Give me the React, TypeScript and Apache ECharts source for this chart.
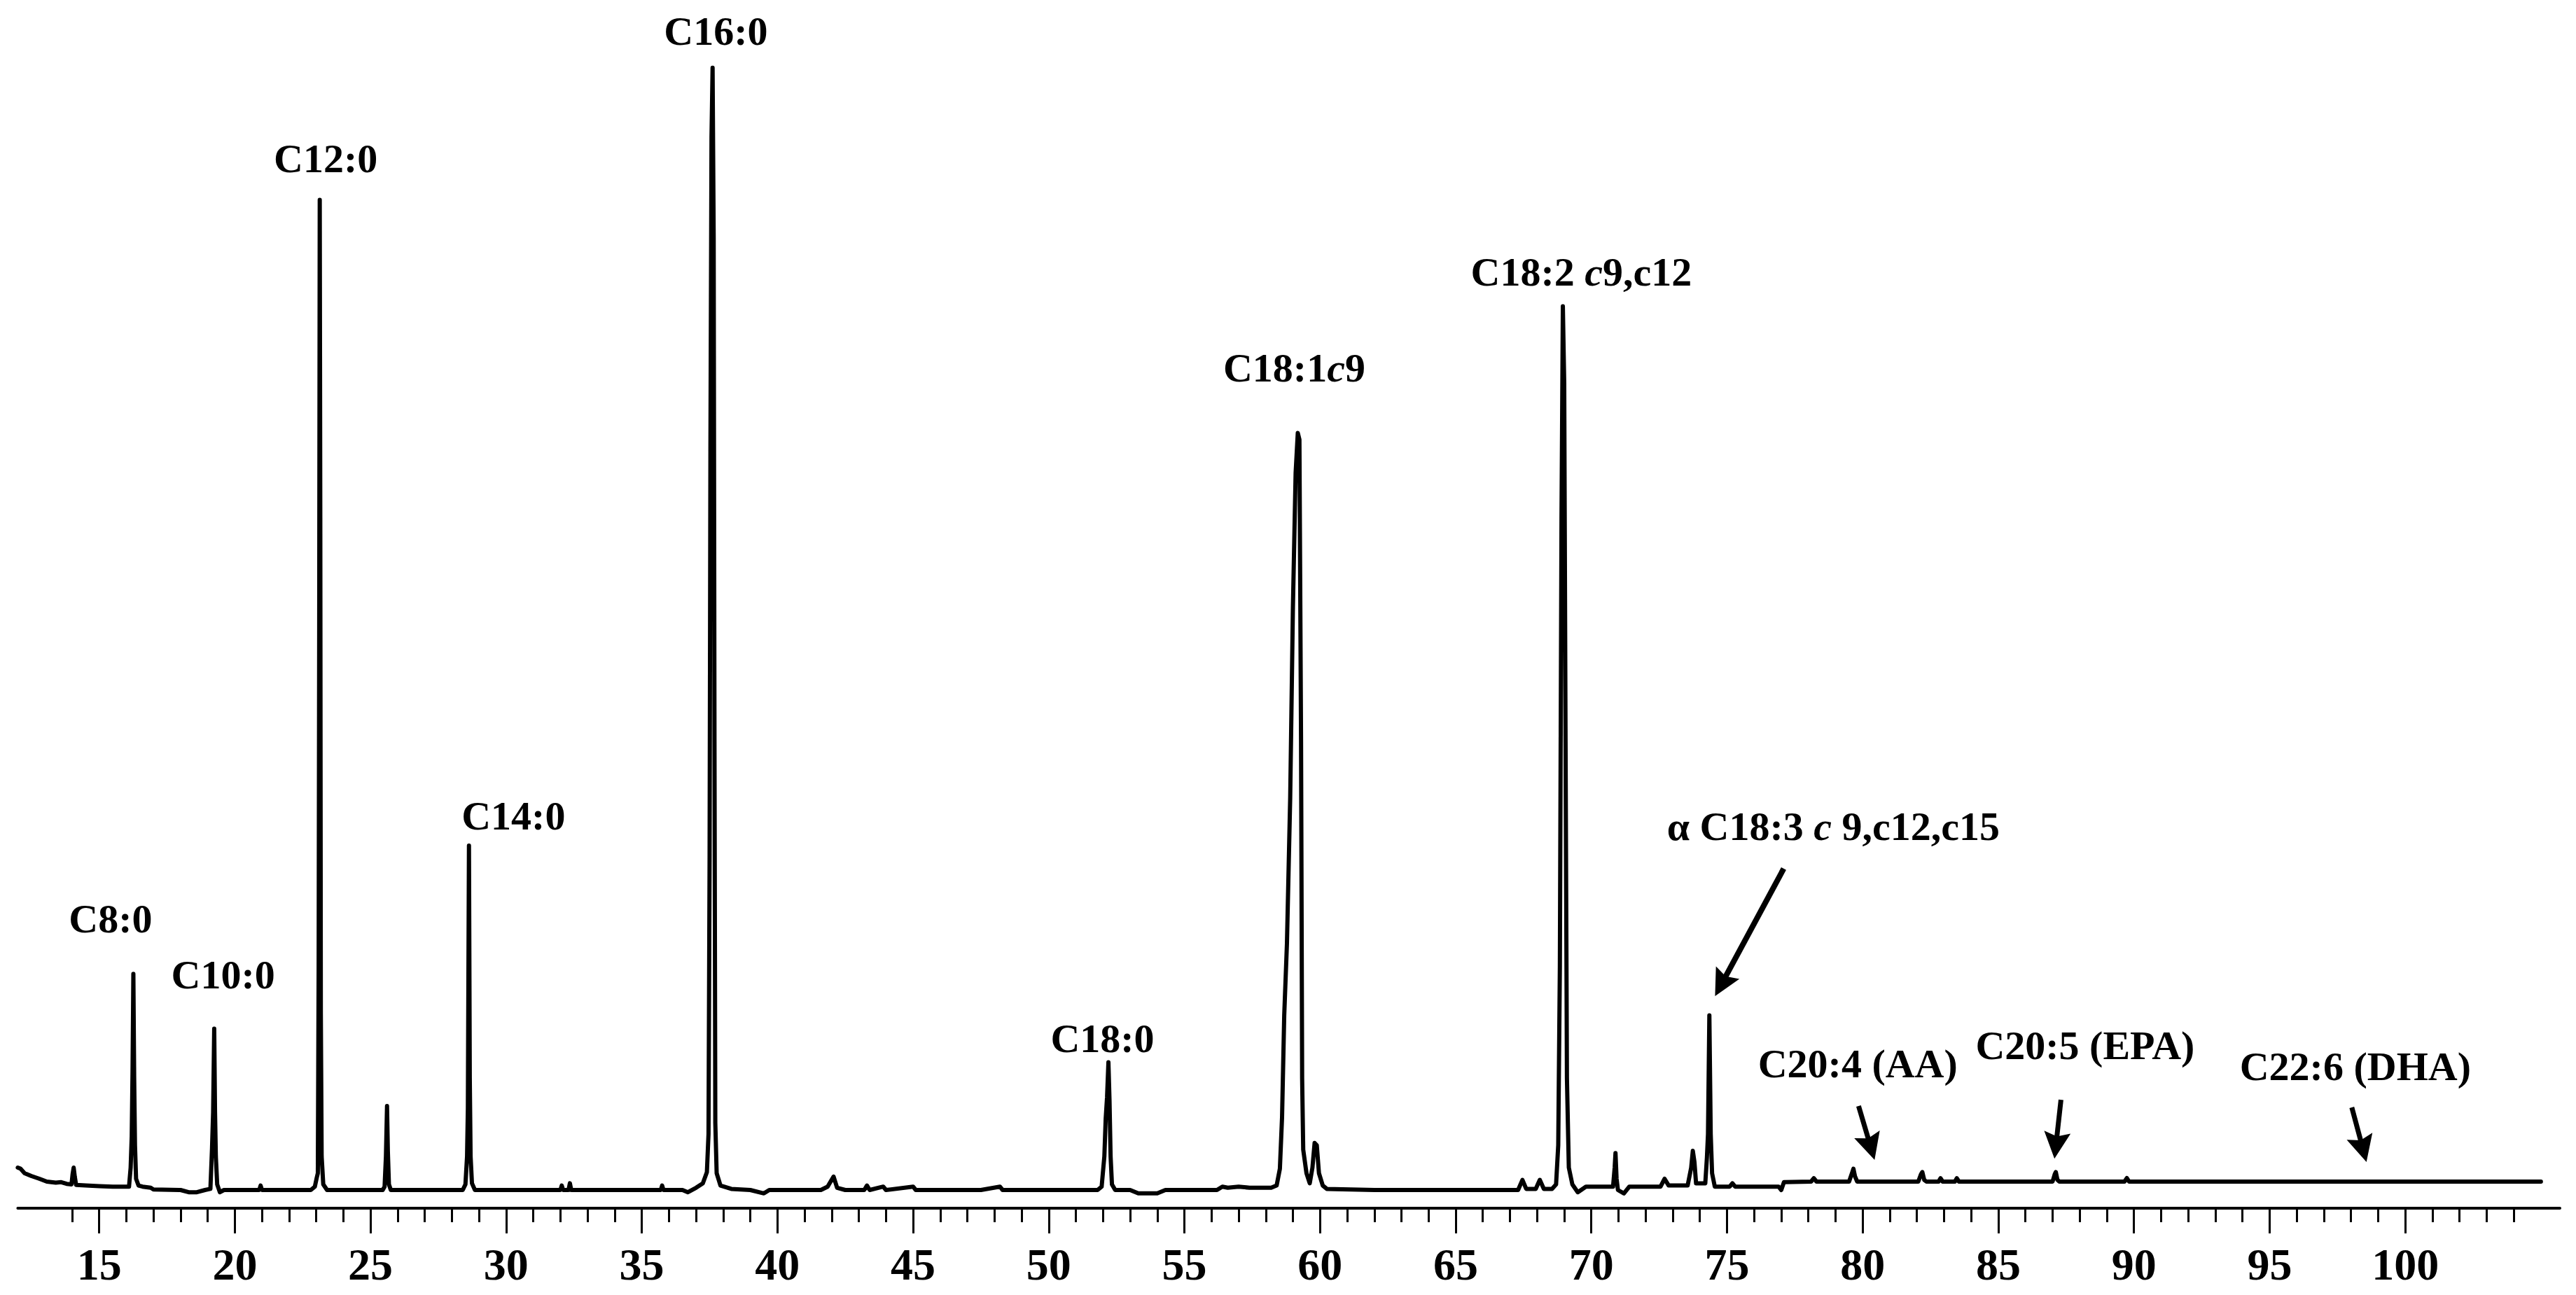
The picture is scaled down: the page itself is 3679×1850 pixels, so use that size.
import React, { useEffect, useRef } from "react";
import * as echarts from "echarts";

const X_MIN = 12;
const X_MAX = 105.7;
const Y_MIN = -1.625;
const Y_MAX = 106.25;

const majorTicks = [15, 20, 25, 30, 35, 40, 45, 50, 55, 60, 65, 70, 75, 80, 85, 90, 95, 100];
const minorTicks = Array.from({ length: 91 }, (_, i) => 14 + i).filter((v) => v % 5 !== 0);

// retention time (min), detector signal (relative units)
const segEarly: [number, number][] = [
  [12.0, 2.0], [12.1, 1.9], [12.25, 1.5], [12.5, 1.25], [12.8, 1.0], [13.07, 0.75], [13.4, 0.65],
  [13.6, 0.7], [13.8, 0.55], [13.98, 0.5], [14.02, 1.4], [14.06, 2.0], [14.1, 1.2], [14.15, 0.45],
  [14.5, 0.4], [15.0, 0.35], [15.5, 0.3], [16.1, 0.3],
  [16.16, 2.0], [16.2, 4.8], [16.23, 10.6], [16.26, 19.3], [16.29, 10.0], [16.32, 4.0], [16.36, 1.0],
  [16.45, 0.4], [16.6, 0.3], [16.9, 0.2], [17.0, 0.05], [18.0, 0.0], [18.3, -0.2], [18.6, -0.2], [18.9, 0.0],
  [19.1, 0.1], [19.16, 3.75], [19.2, 6.9], [19.24, 14.4], [19.27, 7.0], [19.3, 3.0], [19.35, 0.5],
  [19.45, -0.2], [19.6, 0.0], [20.9, 0.0], [20.95, 0.4], [21.0, 0.0], [22.8, 0.0],
];
const segC12C14: [number, number][] = [
  [22.95, 0.3], [23.02, 1.1], [23.06, 1.5], [23.09, 20], [23.11, 50], [23.13, 88.4], [23.15, 60],
  [23.17, 15.8], [23.2, 3.0], [23.26, 0.5], [23.4, 0.0], [25.45, 0.0],
  [25.52, 0.3], [25.57, 3.0], [25.61, 7.5], [25.64, 3.5], [25.68, 0.5], [25.75, 0.0], [28.4, 0.0],
  [28.5, 0.5], [28.56, 3.0], [28.59, 7.3], [28.63, 30.75], [28.66, 10], [28.69, 3.0], [28.74, 0.6],
  [28.85, 0.0], [32.0, 0.0], [32.05, 0.4], [32.1, 0.0], [32.3, 0.0], [32.35, 0.6], [32.4, 0.0],
  [35.7, 0.0], [35.75, 0.4], [35.8, 0.0], [36.5, 0.0], [36.7, -0.2], [37.0, 0.2],
];
const segC16C18: [number, number][] = [
  [37.25, 0.6], [37.4, 1.6], [37.46, 5.0], [37.5, 30], [37.53, 66], [37.57, 94], [37.61, 100.2],
  [37.65, 85], [37.68, 40], [37.71, 6.0], [37.76, 1.5], [37.9, 0.4], [38.3, 0.1], [39.0, 0.0],
  [39.5, -0.3], [39.7, 0.0], [41.6, 0.0], [41.85, 0.3], [42.07, 1.2], [42.2, 0.2], [42.5, 0.0],
  [43.2, 0.0], [43.3, 0.4], [43.4, 0.0], [43.9, 0.3], [44.0, 0.0], [45.0, 0.3], [45.1, 0.0],
  [47.5, 0.0], [48.2, 0.3], [48.3, 0.0], [50.5, 0.0], [51.8, 0.0],
  [51.95, 0.3], [52.05, 3.0], [52.1, 6.4], [52.15, 8.3], [52.2, 11.4], [52.24, 8.0], [52.28, 3.0],
  [52.33, 0.5], [52.45, 0.0], [53.0, 0.0], [53.3, -0.3], [54.0, -0.3], [54.3, 0.0], [56.2, 0.0],
  [56.4, 0.3], [56.6, 0.2], [57.0, 0.3], [57.4, 0.2], [58.2, 0.2],
];
const segC18Unsat: [number, number][] = [
  [58.4, 0.4], [58.52, 1.9], [58.6, 6.5], [58.68, 15.6], [58.78, 22], [58.9, 35], [59.0, 52],
  [59.1, 64], [59.18, 67.6], [59.24, 67], [59.3, 40], [59.34, 10], [59.38, 3.6], [59.5, 1.5],
  [59.62, 0.6], [59.72, 2.0], [59.8, 4.2], [59.88, 4.0], [59.96, 1.5], [60.1, 0.4], [60.25, 0.1],
  [62.0, 0.0], [67.3, 0.0], [67.46, 0.9], [67.6, 0.1], [67.95, 0.1], [68.1, 0.9], [68.25, 0.1],
  [68.55, 0.1],
  [68.7, 0.5], [68.78, 4.0], [68.84, 20], [68.9, 60], [68.95, 78.9], [69.0, 72], [69.05, 40],
  [69.1, 10], [69.17, 2.0], [69.3, 0.5], [69.5, -0.2], [69.8, 0.3], [70.8, 0.3], [70.86, 2.0],
  [70.89, 3.3], [70.93, 1.0], [70.98, 0.0], [71.2, -0.3], [71.4, 0.3], [72.55, 0.3], [72.7, 1.0],
  [72.85, 0.4], [73.55, 0.4], [73.68, 2.0], [73.74, 3.5], [73.8, 2.5], [73.86, 0.6], [74.2, 0.6],
  [74.26, 2.9], [74.3, 5.0], [74.35, 15.6], [74.4, 5.0], [74.45, 1.5], [74.55, 0.3],
];
const segLate: [number, number][] = [
  [75.1, 0.3], [75.2, 0.6], [75.3, 0.3], [76.9, 0.3], [77.0, 0.0], [77.1, 0.7], [78.1, 0.75],
  [78.2, 1.05], [78.3, 0.75], [79.5, 0.75], [79.62, 1.6], [79.66, 1.9], [79.72, 1.2], [79.8, 0.75],
  [82.05, 0.75], [82.15, 1.4], [82.2, 1.6], [82.27, 0.9], [82.35, 0.75], [82.8, 0.75], [82.87, 1.05],
  [82.95, 0.75], [83.4, 0.75], [83.47, 1.05], [83.55, 0.75], [87.0, 0.75], [87.08, 1.4], [87.12, 1.6],
  [87.18, 0.9], [87.25, 0.75], [89.65, 0.75], [89.74, 1.06], [89.82, 0.75], [105.0, 0.75],
];

type Part = { t: string; i?: boolean };
const peakLabels: { parts: Part[]; at: [number, number] }[] = [
  { parts: [{ t: "C8:0" }], at: [15.42, 24.25] },
  { parts: [{ t: "C10:0" }], at: [19.57, 19.25] },
  { parts: [{ t: "C12:0" }], at: [23.35, 92.1] },
  { parts: [{ t: "C14:0" }], at: [30.27, 33.4] },
  { parts: [{ t: "C16:0" }], at: [37.73, 103.5] },
  { parts: [{ t: "C18:0" }], at: [51.98, 13.56] },
  { parts: [{ t: "C18:1" }, { t: "c", i: true }, { t: "9" }], at: [59.05, 73.4] },
  { parts: [{ t: "C18:2 " }, { t: "c", i: true }, { t: "9,c12" }], at: [69.63, 82.0] },
  { parts: [{ t: "α C18:3 " }, { t: "c", i: true }, { t: " 9,c12,c15" }], at: [78.92, 32.5] },
  { parts: [{ t: "C20:4 (AA)" }], at: [79.82, 11.3] },
  { parts: [{ t: "C20:5 (EPA)" }], at: [88.2, 12.9] },
  { parts: [{ t: "C22:6 (DHA)" }], at: [98.16, 11.06] },
];

const arrows: { from: [number, number]; to: [number, number]; w: number }[] = [
  { from: [77.09, 28.69], to: [74.56, 17.31], w: 8 },
  { from: [79.85, 7.5], to: [80.44, 2.69], w: 7 },
  { from: [87.31, 8.06], to: [87.07, 2.8], w: 7 },
  { from: [98.03, 7.375], to: [98.57, 2.5], w: 7 },
];

const FONT = "'Liberation Serif', 'Times New Roman', serif";

export default function App() {
  const ref = useRef<HTMLDivElement>(null);
  useEffect(() => {
    if (!ref.current) return;
    const chart = echarts.init(ref.current, undefined, { renderer: "svg" });
    const trace = [...segEarly, ...segC12C14, ...segC16C18, ...segC18Unsat, ...segLate];
    chart.setOption({
      animation: false,
      backgroundColor: "#fff",
      grid: { left: 25.4, right: 23, top: 0, bottom: 124, containLabel: false },
      xAxis: [
        {
          type: "value", min: X_MIN, max: X_MAX, position: "bottom",
          axisLine: { show: true, onZero: false, lineStyle: { color: "#000", width: 4 } },
          axisTick: { show: true, customValues: majorTicks, length: 36, lineStyle: { color: "#000", width: 3 } },
          axisLabel: {
            show: true, customValues: majorTicks, color: "#000", fontSize: 64, fontWeight: "bold",
            fontFamily: FONT, margin: 48, lineHeight: 64,
          },
          splitLine: { show: false },
        },
        {
          type: "value", min: X_MIN, max: X_MAX, position: "bottom",
          axisLine: { show: false, onZero: false },
          axisTick: { show: true, customValues: minorTicks, length: 20, lineStyle: { color: "#000", width: 3 } },
          axisLabel: { show: false },
          splitLine: { show: false },
        },
      ],
      yAxis: { type: "value", min: Y_MIN, max: Y_MAX, show: false, splitLine: { show: false } },
      series: [
        {
          type: "line", xAxisIndex: 0, yAxisIndex: 0, data: trace, showSymbol: false, symbol: "none",
          clip: false,
          lineStyle: { color: "#000", width: 6, join: "round", cap: "round" },
        },
      ],
    });

    const px = (p: [number, number]) => chart.convertToPixel({ xAxisIndex: 0, yAxisIndex: 0 }, p) as number[];
    const graphics: any[] = [];
    const base = { fontFamily: FONT, fontSize: 58, fontWeight: "bold", fill: "#000" };
    peakLabels.forEach((l) => {
      const [x, y] = px(l.at);
      graphics.push({
        type: "text", x, y, silent: true,
        style: {
          text: l.parts.map((p) => `{${p.i ? "i" : "n"}|${p.t}}`).join(""),
          align: "center", verticalAlign: "middle", ...base,
          rich: { n: { ...base }, i: { ...base, fontStyle: "italic" } },
        },
      });
    });
    const L = 38, W = 38, notch = 6;
    arrows.forEach((a) => {
      const p1 = px(a.from), p2 = px(a.to);
      const dx = p2[0] - p1[0], dy = p2[1] - p1[1];
      const len = Math.hypot(dx, dy);
      const ux = dx / len, uy = dy / len;
      const nx = -uy, ny = ux;
      const bx = p2[0] - ux * L, by = p2[1] - uy * L;
      graphics.push({
        type: "line", silent: true,
        shape: { x1: p1[0], y1: p1[1], x2: p2[0] - ux * (L - 8), y2: p2[1] - uy * (L - 8) },
        style: { stroke: "#000", lineWidth: a.w },
      });
      graphics.push({
        type: "polygon", silent: true,
        shape: {
          points: [
            [p2[0], p2[1]],
            [bx + nx * W / 2, by + ny * W / 2],
            [p2[0] - ux * (L - notch), p2[1] - uy * (L - notch)],
            [bx - nx * W / 2, by - ny * W / 2],
          ],
        },
        style: { fill: "#000" },
      });
    });
    chart.setOption({ graphic: graphics });
    return () => chart.dispose();
  }, []);
  return (
    <div
      ref={ref}
      style={{ position: "fixed", left: 0, top: 0, width: 3679, height: 1850, background: "#fff" }}
    />
  );
}
